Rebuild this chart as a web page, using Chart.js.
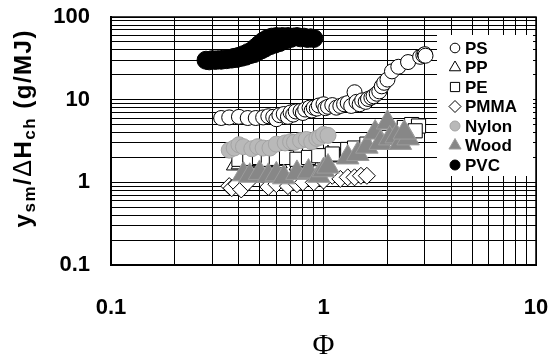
<!DOCTYPE html>
<html>
<head>
<meta charset="utf-8">
<script src="https://cdn.jsdelivr.net/npm/chart.js@4.4.0/dist/chart.umd.min.js"></script>
<style>
  html, body { margin: 0; padding: 0; background: #fff; }
  canvas { display: block; }
</style>
</head>
<body>
<canvas id="smokeChart" width="552" height="360"></canvas>
<script>
// --- Data: [Phi, y_sm/dHch] pairs ---
const psData = [
  [0.33, 6.0], [0.36, 6.1], [0.40, 6.2], [0.44, 6.0], [0.48, 6.0], [0.52, 6.1], [0.55, 6.3],
  [0.58, 6.2], [0.60, 5.8], [0.62, 6.5], [0.65, 6.7], [0.68, 6.2], [0.70, 7.0], [0.72, 6.6],
  [0.74, 7.2], [0.78, 7.3], [0.80, 6.9], [0.82, 7.6], [0.86, 8.0], [0.88, 7.4], [0.90, 8.0],
  [0.93, 7.8], [0.95, 8.5], [1.00, 8.8], [1.02, 7.9], [1.05, 8.2], [1.10, 8.6], [1.15, 8.0],
  [1.20, 8.4], [1.25, 8.8], [1.30, 9.1], [1.35, 8.4], [1.40, 12.3], [1.43, 9.4], [1.48, 8.8],
  [1.52, 9.8], [1.58, 9.4], [1.62, 10.2], [1.68, 10.6], [1.72, 11.0], [1.78, 11.8], [1.83, 12.6],
  [1.88, 14.5], [1.93, 16.0], [2.00, 17.5], [2.10, 22], [2.25, 25], [2.50, 28.5], [2.85, 33],
  [2.95, 34.5], [3.00, 35.5], [3.02, 34]
];
const ppData = [
  [0.38, 1.6], [0.40, 1.65], [0.45, 1.7], [0.50, 1.75], [0.62, 1.7], [0.75, 1.6], [0.82, 1.7],
  [0.88, 1.8], [0.95, 2.0], [1.05, 2.2], [1.20, 2.0], [1.40, 2.3], [1.60, 2.6], [1.90, 3.0],
  [2.20, 3.5], [2.50, 3.8]
];
const peData = [
  [0.40, 1.9], [0.45, 1.95], [0.50, 2.0], [0.55, 1.9], [0.60, 1.95], [0.67, 2.0], [0.75, 1.9],
  [0.85, 2.0], [0.95, 2.1], [1.10, 2.2], [1.30, 2.5], [1.40, 2.6], [1.60, 2.9], [1.80, 3.3],
  [2.00, 3.5], [2.40, 4.6], [2.60, 5.0], [2.80, 4.8], [2.70, 4.2]
];
const pmmaData = [
  [0.36, 0.9], [0.37, 0.85], [0.39, 0.95], [0.41, 0.82], [0.44, 1.0], [0.55, 0.88], [0.60, 0.95],
  [0.68, 0.9], [0.75, 0.95], [0.80, 1.0], [0.90, 1.0], [1.00, 1.05], [1.10, 1.2], [1.20, 1.1],
  [1.30, 1.15], [1.40, 1.15], [1.50, 1.2], [1.60, 1.2]
];
const nylonData = [
  [0.36, 2.45], [0.38, 2.6], [0.40, 2.85], [0.42, 2.7], [0.46, 2.55], [0.49, 2.7], [0.52, 2.6],
  [0.56, 2.6], [0.60, 2.9], [0.66, 3.0], [0.70, 3.1], [0.73, 3.05], [0.78, 3.2], [0.83, 3.3],
  [0.88, 3.1], [0.93, 3.4], [0.96, 3.5], [1.00, 3.8], [1.05, 3.7]
];
const woodData = [
  [0.42, 1.25], [0.45, 1.2], [0.50, 1.3], [0.55, 1.2], [0.60, 1.25], [0.65, 1.15], [0.75, 1.3],
  [0.85, 1.35], [0.95, 1.2], [1.00, 1.4], [1.05, 1.55], [1.30, 2.0], [1.45, 2.2], [1.60, 2.7],
  [1.75, 4.0], [1.85, 3.0], [2.00, 5.3], [2.05, 3.4], [2.20, 3.6], [2.30, 3.0], [2.50, 3.4], [2.40, 4.0]
];
const pvcData = [
  [0.28, 30], [0.29, 29.5], [0.30, 30.5], [0.31, 29.8], [0.32, 30.5], [0.33, 30], [0.34, 31],
  [0.35, 30.5], [0.36, 31.5], [0.37, 31], [0.38, 32.5], [0.39, 31.5], [0.40, 33.5], [0.41, 32.5],
  [0.42, 35], [0.43, 33.5], [0.44, 37], [0.45, 35], [0.46, 39], [0.47, 36], [0.48, 43], [0.49, 38],
  [0.50, 47], [0.51, 40], [0.52, 51], [0.53, 42], [0.54, 54], [0.56, 45], [0.57, 57], [0.59, 47],
  [0.60, 58], [0.62, 49], [0.64, 58], [0.66, 52], [0.68, 58], [0.70, 55], [0.72, 57], [0.75, 58],
  [0.78, 56], [0.81, 57], [0.84, 55], [0.87, 56], [0.90, 55]
];

// --- Axes ---
const xTickLabels = [0.1, 1, 10];
const yTickLabels = [0.1, 1, 10, 100];

// 1..9 x 10^n grid positions for a log axis
function logGrid(min, max) {
  const out = [];
  for (let e = Math.round(Math.log10(min)); e < Math.round(Math.log10(max)); e++) {
    for (let m = 1; m <= 9; m++) out.push(m * Math.pow(10, e));
  }
  out.push(max);
  return out;
}
function tickText(v, labels) {
  const hit = labels.find(l => Math.abs(Math.log10(v) - Math.log10(l)) < 1e-6);
  return hit === undefined ? '' : String(hit);
}
const toPoints = arr => arr.map(([x, y]) => ({ x, y }));

Chart.defaults.font.family = '"Liberation Sans", Arial, sans-serif';
Chart.defaults.color = '#000';

// --- Markers for the inset legend ---
function drawMarker(ctx, style, x, y, r) {
  ctx.beginPath();
  if (style === 'circle') {
    ctx.arc(x, y, r, 0, Math.PI * 2);
  } else if (style === 'triangle') {
    ctx.moveTo(x, y - r);
    ctx.lineTo(x + r * 0.866, y + r * 0.5);
    ctx.lineTo(x - r * 0.866, y + r * 0.5);
    ctx.closePath();
  } else if (style === 'rect') {
    ctx.rect(x - r * 0.707, y - r * 0.707, r * 1.414, r * 1.414);
  } else if (style === 'rectRot') {
    ctx.moveTo(x - r, y); ctx.lineTo(x, y - r); ctx.lineTo(x + r, y); ctx.lineTo(x, y + r);
    ctx.closePath();
  }
  ctx.fill();
  ctx.stroke();
}

// frame, y title with subscripts, inset legend
const decorations = {
  id: 'decorations',
  afterDraw(chart) {
    const { ctx, chartArea: a } = chart;
    ctx.save();
    ctx.strokeStyle = '#000';
    ctx.lineWidth = 1.5;
    ctx.strokeRect(a.left, a.top, a.right - a.left, a.bottom - a.top);

    // y axis title: y_sm/ΔH_ch (g/MJ), drawn glyph by glyph with a little tracking
    const main = 'bold 24px "Liberation Sans", Arial, sans-serif';
    const delta = '25px "Liberation Sans", Arial, sans-serif';
    const sub = 'bold 17px "Liberation Sans", Arial, sans-serif';
    const track = 1.5;
    const parts = [
      ['y', main, 0], ['sm', sub, 4], ['/', main, 0], ['\u0394', delta, 0],
      ['H', main, 0], ['ch', sub, 4], [' (g/MJ)', main, 0]
    ];
    const glyphs = [];
    parts.forEach(p => { for (const ch of p[0]) glyphs.push([ch, p[1], p[2]]); });
    let total = 0;
    glyphs.forEach(g => { ctx.font = g[1]; total += ctx.measureText(g[0]).width + track; });
    total -= track;
    ctx.translate(31, a.top + 112);
    ctx.rotate(-Math.PI / 2);
    ctx.fillStyle = '#000';
    ctx.textBaseline = 'alphabetic';
    let px = -total / 2;
    glyphs.forEach(g => {
      ctx.font = g[1];
      ctx.fillText(g[0], px, g[2]);
      px += ctx.measureText(g[0]).width + track;
    });
    ctx.setTransform(1, 0, 0, 1, 0, 0);

    // inset legend
    const lx = a.right - 99, ly = a.top + 18;
    ctx.fillStyle = '#fff';
    ctx.fillRect(lx, ly, 96, 141);
    ctx.font = 'bold 17px "Liberation Sans", Arial, sans-serif';
    ctx.textBaseline = 'middle';
    chart.data.datasets.forEach((ds, i) => {
      const y = ly + 13 + i * 19.5;
      ctx.fillStyle = ds.backgroundColor;
      ctx.strokeStyle = ds.borderColor;
      ctx.lineWidth = 1;
      drawMarker(ctx, ds.pointStyle, lx + 18, y, ds.legendRadius);
      ctx.fillStyle = '#000';
      ctx.fillText(ds.label, lx + 28, y + 1);
    });
    ctx.restore();
  }
};

const ctx = document.getElementById('smokeChart').getContext('2d');
new Chart(ctx, {
  type: 'scatter',
  data: {
    datasets: [
      { label: 'PS', data: toPoints(psData), pointStyle: 'circle', pointRadius: 7.5,
        backgroundColor: '#fff', borderColor: '#000', borderWidth: 1, legendRadius: 4.8, order: 5 },
      { label: 'PP', data: toPoints(ppData), pointStyle: 'triangle', pointRadius: 9,
        backgroundColor: '#fff', borderColor: '#000', borderWidth: 1, legendRadius: 6.5, order: 4 },
      { label: 'PE', data: toPoints(peData), pointStyle: 'rect', pointRadius: 10,
        backgroundColor: '#fff', borderColor: '#000', borderWidth: 1, legendRadius: 6.5, order: 3 },
      { label: 'PMMA', data: toPoints(pmmaData), pointStyle: 'rectRot', pointRadius: 8.5,
        backgroundColor: '#fff', borderColor: '#000', borderWidth: 1, legendRadius: 6, order: 2 },
      { label: 'Nylon', data: toPoints(nylonData), pointStyle: 'circle', pointRadius: 8,
        backgroundColor: '#b9b9b9', borderColor: '#a4a4a4', borderWidth: 1, legendRadius: 5, order: 1 },
      { label: 'Wood', data: toPoints(woodData), pointStyle: 'triangle', pointRadius: 13,
        backgroundColor: '#878787', borderColor: '#9c9c9c', borderWidth: 1, legendRadius: 7, order: 0 },
      { label: 'PVC', data: toPoints(pvcData), pointStyle: 'circle', pointRadius: 9,
        backgroundColor: '#000', borderColor: '#000', borderWidth: 1, legendRadius: 5, order: 6 }
    ]
  },
  options: {
    responsive: false,
    animation: false,
    devicePixelRatio: 1,
    layout: { padding: { top: 17, right: 16, bottom: 0, left: 0 } },
    plugins: { legend: { display: false }, tooltip: { enabled: false } },
    scales: {
      x: {
        type: 'logarithmic',
        position: 'bottom',
        min: 0.1,
        max: 10,
        afterBuildTicks: s => { s.ticks = logGrid(0.1, 10).map(v => ({ value: v })); },
        // fixed box; the tick padding must not push the plot edges in
        afterFit: s => { s.height = 95; s.paddingLeft = 0; s.paddingRight = 0; },
        grid: { color: '#000', lineWidth: 1, drawTicks: false },
        border: { display: true, color: '#000', width: 2 },
        ticks: {
          autoSkip: false, maxRotation: 0, padding: 30,
          font: { size: 22, weight: 'bold' },
          callback: v => tickText(v, xTickLabels)
        },
        title: {
          display: true, text: '\u03A6', padding: 0,
          font: { family: '"Liberation Serif", "Times New Roman", serif', size: 30, lineHeight: 0.9 }
        }
      },
      y: {
        type: 'logarithmic',
        min: 0.1,
        max: 100,
        afterBuildTicks: s => { s.ticks = logGrid(0.1, 100).map(v => ({ value: v })); },
        afterFit: s => { s.width = 111; s.paddingTop = 0; s.paddingBottom = 0; },
        grid: { color: '#000', lineWidth: 1, drawTicks: false },
        border: { display: true, color: '#000', width: 2 },
        ticks: {
          autoSkip: false, padding: 21,
          font: { size: 22, weight: 'bold' },
          callback: v => tickText(v, yTickLabels)
        }
      }
    }
  },
  plugins: [decorations]
});
</script>
</body>
</html>
